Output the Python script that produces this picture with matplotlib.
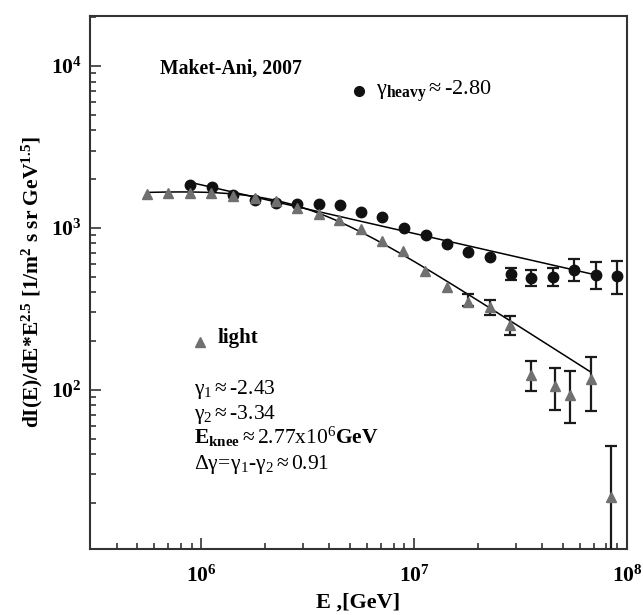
import matplotlib
matplotlib.use("Agg")
import matplotlib.pyplot as plt
import numpy as np
from matplotlib.ticker import FuncFormatter, LogLocator, NullFormatter

plt.rcParams['font.family'] = ['Liberation Serif', 'DejaVu Serif']
plt.rcParams['mathtext.fontset'] = 'custom'
plt.rcParams['mathtext.rm'] = 'Liberation Serif'
plt.rcParams['mathtext.it'] = 'Liberation Serif:italic'
plt.rcParams['mathtext.bf'] = 'Liberation Serif:bold'

# heavy component (circles)
E_heavy = [8.84e5, 1.12e6, 1.41e6, 1.78e6, 2.25e6, 2.81e6, 3.56e6, 4.49e6, 5.63e6,
           7.1e6, 8.96e6, 1.14e7, 1.43e7, 1.79e7, 2.26e7, 2.84e7, 3.55e7, 4.49e7,
           5.65e7, 7.14e7, 8.98e7]
flux_heavy = [1828, 1795, 1596, 1479, 1432, 1412, 1397, 1384, 1254, 1167, 1004,
              900, 792, 705, 662, 520, 492, 497, 552, 510, 506]
# error bar bounds for the last heavy points (None = no bar)
heavy_hi = [None]*15 + [561, 551, 561, 641, 611, 622]
heavy_lo = [None]*15 + [476, 439, 435, 467, 419, 390]

# light component (triangles)
E_light = [5.56e5, 7.0e5, 8.84e5, 1.11e6, 1.41e6, 1.78e6, 2.25e6, 2.81e6, 3.56e6,
           4.45e6, 5.63e6, 7.1e6, 8.87e6, 1.12e7, 1.42e7, 1.79e7, 2.26e7, 2.82e7,
           3.55e7, 4.57e7, 5.4e7, 6.76e7, 8.4e7]
flux_light = [1611, 1633, 1633, 1633, 1571, 1537, 1468, 1321, 1225, 1114, 980,
              830, 721, 543, 429, 350, 323, 251, 122.5, 106, 93, 116, 21.8]
light_hi = [None]*15 + [390, 360, 284, 150, 137, 130, 159, 44.8]
light_lo = [None]*15 + [327, 291, 219, 97.7, 75, 62.7, 73.5, 5]

# fit parameters
gamma_heavy = -2.80
heavy_norm = 10**5.065
heavy_range = (8.8e5, 6.76e7)
gamma1, gamma2, E_knee = -2.43, -3.34, 2.77e6
light_norm = 10**2.824
light_range = (5.64e5, 6.76e7)
eps = 2.0


def light_fit(E):
    return light_norm * E**(gamma1 + 2.5) * (1 + (E / E_knee)**eps)**((gamma2 - gamma1) / eps)


def heavy_fit(E):
    return heavy_norm * E**(gamma_heavy + 2.5)


fig = plt.figure(figsize=(6.43, 6.15), dpi=100)
ax = fig.add_axes([90/643, 1 - 549/615, 537/643, 533/615])
ax.set_xscale('log')
ax.set_yscale('log')
ax.set_xlim(3e5, 1e8)
ax.set_ylim(10.4, 2.03e4)

# fit lines
Eh = np.logspace(np.log10(heavy_range[0]), np.log10(heavy_range[1]), 50)
ax.plot(Eh, heavy_fit(Eh), color='black', lw=1.1, zorder=2)
El = np.logspace(np.log10(light_range[0]), np.log10(light_range[1]), 200)
ax.plot(El, light_fit(El), color='black', lw=1.1, zorder=2)

ekw = dict(fmt='none', ecolor='#1a1a1a', elinewidth=1.6, capsize=4.2, capthick=1.6, zorder=3)


def draw_err(E, f, hi, lo):
    xs, ys, lower, upper = [], [], [], []
    for e, v, h, l in zip(E, f, hi, lo):
        if h is None:
            continue
        xs.append(e)
        ys.append(v)
        lower.append(v - l)
        upper.append(h - v)
    ax.errorbar(xs, ys, yerr=[lower, upper], **ekw)


draw_err(E_heavy, flux_heavy, heavy_hi, heavy_lo)
draw_err(E_light, flux_light, light_hi, light_lo)

ax.plot(E_heavy, flux_heavy, 'o', color='#111111', ms=7.5, mec='#111111', zorder=4)
ax.plot(E_light, flux_light, '^', color='#707070', ms=6.8, mec='#707070', zorder=4)

# ticks
fmt = FuncFormatter(lambda v, _: r'$\mathbf{10^{%d}}$' % round(np.log10(v)))
ax.xaxis.set_major_formatter(fmt)
ax.yaxis.set_major_formatter(fmt)
ax.xaxis.set_minor_formatter(NullFormatter())
ax.yaxis.set_minor_formatter(NullFormatter())
ax.xaxis.set_minor_locator(LogLocator(base=10, subs=np.arange(2, 10), numticks=20))
ax.yaxis.set_minor_locator(LogLocator(base=10, subs=np.arange(2, 10), numticks=20))
ax.tick_params(which='both', direction='in', top=False, right=False, color='#333333')
ax.tick_params(which='major', length=8, width=1.2, labelsize=15.5)
ax.tick_params(axis='y', which='major', pad=6)
ax.tick_params(axis='x', which='major', pad=12)
ax.tick_params(which='minor', length=4.5, width=1.2)
for s in ax.spines.values():
    s.set_linewidth(1.5)
    s.set_color('#333333')

ax.set_xlabel('E ,[GeV]', fontsize=16, fontweight='bold', labelpad=4)
ax.set_ylabel(r'$\mathbf{dI(E)/dE{*}E^{2.5}\ [1/m^{2}\ s\ sr\ GeV^{1.5}]}$', fontsize=15.5, labelpad=4)

# annotations
ax.text(0.130, 0.902, 'Maket-Ani, 2007', transform=ax.transAxes, fontsize=14.2,
        fontweight='bold', va='center', ha='left')
ax.plot([0.501], [0.859], 'o', color='#111111', ms=7, transform=ax.transAxes, clip_on=False)
ax.text(0.532, 0.859, r'$\mathrm{\gamma}_{\mathbf{heavy}}\approx$-2.80',
        transform=ax.transAxes, fontsize=16, va='center', ha='left')

ax.plot([(200 - 90)/537], [(549 - 342)/533], '^', color='#707070', ms=6.5,
        transform=ax.transAxes, clip_on=False)
ax.text((218 - 90)/537, (549 - 338)/533, 'light', transform=ax.transAxes, fontsize=15,
        fontweight='bold', va='center', ha='left')

lines = [r'$\mathrm{\gamma_1}\approx$-2.43',
         r'$\mathrm{\gamma_2}\approx$-3.34',
         r'$\mathbf{E_{knee}}\approx\mathrm{2.77x10^{6}}\mathbf{GeV}$',
         r'$\mathrm{\Delta\gamma\!=\!\gamma_1}$-$\mathrm{\gamma_2}\approx$0.91']
for i, t in enumerate(lines):
    ax.text((194 - 90)/537, (549 - (394 + 25*i))/533, t, transform=ax.transAxes,
            fontsize=15.5, va='baseline', ha='left')

fig.savefig('out.png', dpi=100)
